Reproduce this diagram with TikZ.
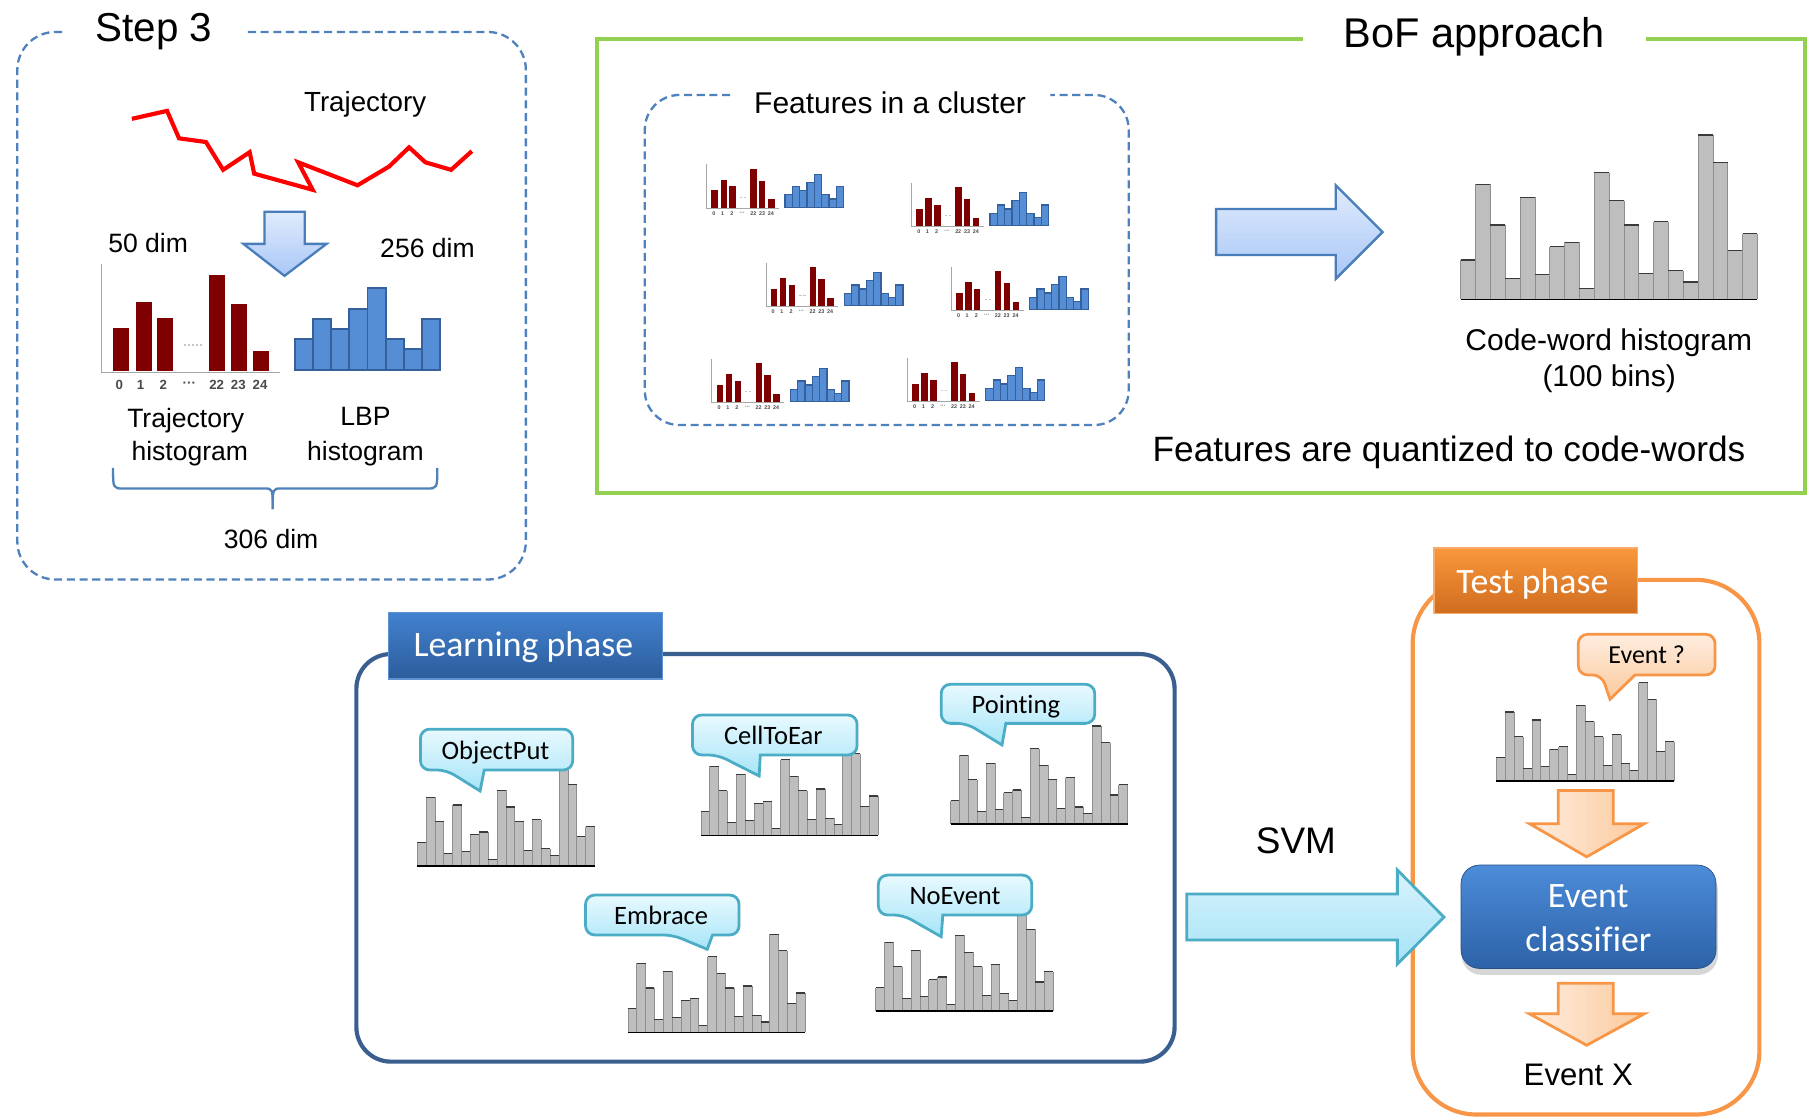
\documentclass[tikz,border=0pt]{standalone}
\usepackage{fontspec}
\setmainfont{Liberation Sans}
\newfontfamily\carlito[Ligatures=NoCommon]{Carlito}

\definecolor{dashblue}{HTML}{4F81BD}
\definecolor{bofgreen}{HTML}{92D050}
\definecolor{trajred}{HTML}{7F0000}
\definecolor{lbpfill}{HTML}{558ED5}
\definecolor{lbpedge}{HTML}{35609B}
\definecolor{cwgray}{HTML}{BEBEBE}
\definecolor{cwside}{HTML}{8E8E8E}
\definecolor{cwtopc}{HTML}{3A3A3A}
\definecolor{bubtop}{HTML}{E8F9FE}
\definecolor{bubbot}{HTML}{A6E5F8}
\definecolor{bubedge}{HTML}{4BACC6}
\definecolor{arrtop}{HTML}{E0EBFC}
\definecolor{arrbot}{HTML}{A9C7F7}
\definecolor{arredge}{HTML}{4A7EBB}
\definecolor{svmtop}{HTML}{D8F3FC}
\definecolor{svmbot}{HTML}{A6E3F7}
\definecolor{learnframe}{HTML}{3A5F8F}
\definecolor{learntop}{HTML}{4282CF}
\definecolor{learnbot}{HTML}{2C5C9B}
\definecolor{learnedge}{HTML}{5E93D3}
\definecolor{testorange}{HTML}{F79646}
\definecolor{testtop}{HTML}{F9973C}
\definecolor{testbot}{HTML}{D06C1E}
\definecolor{peachlight}{HTML}{FEEDDF}
\definecolor{peachdark}{HTML}{FBC99C}
\definecolor{clftop}{HTML}{4C8CD9}
\definecolor{clfbot}{HTML}{2D62A7}
\definecolor{ticktext}{HTML}{4A4A4A}

\newcommand{\fsz}[1]{\fontsize{#1}{#1}\selectfont}

% heights of the 20 code-word bins, in bar widths
\def\cwlist{2.65,7.77,5.01,1.41,6.87,1.68,3.55,3.84,0.74,8.54,6.65,5.01,1.75,5.23,1.93,1.17,11.08,9.21,3.28,4.43}

% code-word histogram: left x, bottom y, bar width
\newcommand{\cwhist}[3]{%
  \begin{scope}[shift={(#1,#2)},scale=#3]
    \foreach \hh [count=\ii from 0] in \cwlist {%
      \fill[cwgray] (\ii,0) rectangle (\ii+1,-\hh);
      \draw[cwsideline] (\ii,0) -- (\ii,-\hh) (\ii+1,-\hh) -- (\ii+1,0);
      \draw[cwtopline] (\ii,-\hh) -- (\ii+1,-\hh);
    }
    \draw[cwbaseline] (0,0) -- (20,0);
  \end{scope}}

% trajectory + LBP feature pair: axis corner x, y, scale, outline width, name prefix
\newcommand{\featpair}[5]{%
  \begin{scope}[shift={(#1,#2)},scale=#3,every node/.append style={transform shape}]
    \foreach \pa/\pb/\ph in {10.1/24/38.4,29.5/43.4/61,48.3/62.1/47.1,93.3/107.2/84.6,111.9/125.7/59.5,130.9/145.1/19}
      \fill[trajred] (\pa,-1.5) rectangle (\pb,-\ph);
    \draw[gray!70, line width=0.9pt] (0,-94.2) -- (0,0) -- (154.6,0);
    \draw[gray!45, line width=1pt, dash pattern=on 2pt off 1.5pt] (71,-24) -- (88,-24);
    \foreach \px/\pl [count=\kk] in {15.3/0,33.8/1,53.5/2,76/···,99.7/22,118.5/23,137.3/24}
      \node[ticklab] (#5tick\kk) at (\px,10.5) {\pl};
    \foreach \ph [count=\ii from 0] in {28.9,46.5,37.8,55.5,73.1,28.9,20.2,46.5}
      \draw[fill=lbpfill, draw=lbpedge, line width=#4] ({167.6+15.71*\ii},-2.3) rectangle ({167.6+15.71*(\ii+1)},-\ph);
  \end{scope}}

% speech bubble outline: [style] left, top, right, bottom, pointer base left, pointer base right, tip
\newcommand{\calloutshape}[8][cyanbub]{%
  \path[#1] ({(#2+#4)/2},#3) [rounded corners=8pt] -- (#2,#3) -- (#2,#5) -- (#6,#5)
    [sharp corners] -- (#8) -- (#7,#5) [rounded corners=8pt] -- (#4,#5) -- (#4,#3) -- cycle;}

\begin{document}
\begin{tikzpicture}[x=1pt,y=-1pt,
  lbl/.style={inner sep=0pt, anchor=base},
  ticklab/.style={inner sep=0pt, text=ticktext, font=\fsz{11.5}\bfseries},
  cwsideline/.style={cwside, line width=0.6pt},
  cwtopline/.style={cwtopc, line width=1pt},
  cwbaseline/.style={black, line width=1.3pt},
  dashframe/.style={dashblue, line width=2pt, dash pattern=on 7pt off 4pt},
  cyanbub/.style={draw=bubedge, line width=2.4pt, top color=bubtop, bottom color=bubbot},
  peachbub/.style={draw=testorange, line width=2.4pt, top color=peachlight, bottom color=peachdark},
  bluearrow/.style={draw=arredge, line width=2pt, top color=arrtop, bottom color=arrbot, line join=miter},
  svmarrow/.style={draw=bubedge, line width=2.4pt, top color=svmtop, bottom color=svmbot, line join=miter},
  orangearrow/.style={draw=testorange, line width=2.4pt, left color=peachlight, right color=peachdark, line join=miter},
]
\useasboundingbox (0,0) rectangle (1568,970);
\fill[white] (0,0) rectangle (1568,970);

% ---------------- Step 3 ----------------
\draw[dashframe, rounded corners=33pt] (53.8,27.7) -- (15,27.7) -- (15,502.3) -- (455.8,502.3) -- (455.8,27.7) -- (213,27.7);
\node[lbl, font=\fsz{35}] (step) at (133.5,35.9) {Step 3};
\node[lbl, font=\fsz{24}] (trajlab) at (316.5,96.9) {Trajectory};
\draw[red, line width=3.6pt, line join=miter, miter limit=4]
  (114.3,103) -- (144.8,96.1) -- (155.2,119.9) -- (178.5,123.1) -- (193.4,147.2) -- (216.4,131.9)
  -- (220.3,150.5) -- (271,164.5) -- (258.5,140.7) -- (309.9,160.6) -- (337.3,144.3)
  -- (354.6,127.7) -- (368.7,140.7) -- (391,147.2) -- (409,131);
\path[bluearrow] (229.3,183.6) -- (264.2,183.6) -- (264.2,211.4) -- (283,211.4) -- (246.6,239.1) -- (211,211.4) -- (229.3,211.4) -- cycle;
\node[lbl, font=\fsz{23}] (dimA) at (128.4,218.6) {50 dim};
\node[lbl, font=\fsz{23}] (dimB) at (370.5,222.8) {256 dim};
\featpair{88.1}{323}{1}{1.7pt}{big}
\node[lbl, font=\fsz{23}] (th1) at (161,370.2) {Trajectory};
\node[lbl, font=\fsz{23}] (th2) at (164.5,399.2) {histogram};
\node[lbl, font=\fsz{23}] (lb1) at (316.7,368.8) {LBP};
\node[lbl, font=\fsz{23}] (lb2) at (316.7,399.2) {histogram};
\draw[dashblue, line width=2pt] (98,405.5) .. controls (98,423.4) .. (107,423.4) -- (229,423.4) .. controls (236.4,423.4) .. (236.4,441.3);
\draw[dashblue, line width=2pt] (379,405.5) .. controls (379,423.4) .. (370,423.4) -- (243.8,423.4) .. controls (236.4,423.4) .. (236.4,441.3);
\node[lbl, font=\fsz{23}] (dimC) at (235,475.6) {306 dim};

% ---------------- BoF approach ----------------
\draw[bofgreen, line width=3.6pt, line join=miter] (1129.1,34.1) -- (517.7,34.1) -- (517.7,427.6) -- (1564.6,427.6) -- (1564.6,34.1) -- (1426.7,34.1);
\node[lbl, font=\fsz{36}] (bof) at (1278,41) {BoF approach};
\draw[dashframe, rounded corners=30pt] (632.9,82.3) -- (558.9,82.3) -- (558.9,368.4) -- (978.3,368.4) -- (978.3,82.3) -- (910.5,82.3);
\node[lbl, font=\fsz{26}] (clus) at (771.5,98.2) {Features in a cluster};
\featpair{612.6}{180.6}{0.405}{1.1pt}{pa}
\featpair{790.2}{196.5}{0.405}{1.1pt}{pb}
\featpair{664}{265.8}{0.405}{1.1pt}{pc}
\featpair{824.6}{269.3}{0.405}{1.1pt}{pd}
\featpair{617.1}{349}{0.405}{1.1pt}{pe}
\featpair{786.6}{348.2}{0.405}{1.1pt}{pf}
\path[bluearrow] (1054.1,181.2) -- (1157.7,181.2) -- (1157.7,160.4) -- (1198.4,201.1) -- (1157.7,241.8) -- (1157.7,221) -- (1054.1,221) -- cycle;
\cwhist{1266.2}{259.4}{12.85}
\node[lbl, font=\fsz{26}] (cw1) at (1394.5,303.4) {Code-word histogram};
\node[lbl, font=\fsz{26}] (cw2) at (1394.8,335.2) {(100 bins)};
\node[lbl, font=\fsz{30.5}] (quant) at (1256,400.2) {Features are quantized to code-words};

% ---------------- Learning phase ----------------
\draw[learnframe, line width=3.6pt, rounded corners=30pt] (308.9,566.9) rectangle (1018.1,920.2);
\node[draw=learnedge, line width=1pt, top color=learntop, bottom color=learnbot, minimum width=236.9pt, minimum height=57.8pt, inner sep=0pt, anchor=north west] (learnbox) at (336.6,530.2) {};
\node[lbl, font=\carlito\fsz{31}, text=white] (learntxt) at (453.6,568.6) {Learning phase};

\cwhist{361.6}{750.6}{7.685}
\cwhist{607.5}{724}{7.685}
\cwhist{824.1}{714.2}{7.66}
\cwhist{544.2}{894.8}{7.685}
\cwhist{759}{876.3}{7.68}

\calloutshape{364.4}{632}{496.4}{667.4}{386.9}{419.7}{416.1,685.6}
\node[lbl, font=\carlito\fsz{23}] (objput) at (429.5,658.2) {ObjectPut};
\calloutshape{600.2}{619.7}{742.9}{654.4}{622.2}{659}{658,672.6}
\node[lbl, font=\carlito\fsz{23}] (cell) at (670.3,644.9) {CellToEar};
\calloutshape{815.8}{593.1}{948.9}{627}{837.9}{871.8}{868.5,645.7}
\node[lbl, font=\carlito\fsz{23}] (point) at (880.5,618.3) {Pointing};
\calloutshape{507.5}{775.8}{640.6}{810.4}{583.2}{617.6}{613,822.8}
\node[lbl, font=\carlito\fsz{23}] (embr) at (573.1,800.9) {Embrace};
\calloutshape{761.3}{758.5}{894.3}{793.1}{782.8}{817.2}{815.8,811.9}
\node[lbl, font=\carlito\fsz{23}] (noev) at (827.8,783.6) {NoEvent};

% ---------------- Test phase ----------------
\draw[testorange, line width=3.6pt, rounded corners=55pt] (1224.5,502.6) rectangle (1525,966);
\node[draw=testorange!80!white, line width=1pt, top color=testtop, bottom color=testbot, minimum width=176.2pt, minimum height=56.9pt, inner sep=0pt, anchor=north west] (testbox) at (1242.4,474.5) {};
\node[lbl, font=\carlito\fsz{31}, text=white] (testtxt) at (1328.2,514.5) {Test phase};
\cwhist{1297}{677}{7.71}
\calloutshape[peachbub]{1368}{549.8}{1486.6}{585}{1388.3}{1417.2}{1395.5,606.1}
\node[lbl, font=\carlito\fsz{22.5}] (evq) at (1427.3,575.5) {Event ?};
\path[orangearrow] (1350.7,685.1) -- (1398.4,685.1) -- (1398.4,713.9) -- (1425.3,713.9) -- (1375.3,742.7) -- (1325.6,713.9) -- (1350.7,713.9) -- cycle;
\fill[black, opacity=0.16, rounded corners=17pt] (1267,755) rectangle (1489,845);
\node[rounded corners=16pt, top color=clftop, bottom color=clfbot, draw=clfbot!80!black, line width=0.6pt, minimum width=221pt, minimum height=89.6pt, inner sep=0pt] (clf) at (1376.9,794.6) {};
\node[lbl, font=\carlito\fsz{31}, text=white] (clf1) at (1376.7,786.6) {Event};
\node[lbl, font=\carlito\fsz{31}, text=white] (clf2) at (1376.7,824.3) {classifier};
\path[orangearrow] (1350.7,852.2) -- (1398.4,852.2) -- (1398.4,878.7) -- (1425.3,878.7) -- (1375.3,906) -- (1325.6,878.7) -- (1350.7,878.7) -- cycle;
\node[lbl, font=\fsz{27}] (evx) at (1368,941.2) {Event X};

% ---------------- SVM ----------------
\node[lbl, font=\fsz{32}] (svm) at (1123.3,740.2) {SVM};
\path[svmarrow] (1028.6,774.9) -- (1211.2,774.9) -- (1211.2,754.1) -- (1251.6,794.9) -- (1211.2,835.6) -- (1211.2,814.8) -- (1028.6,814.8) -- cycle;
\end{tikzpicture}
\end{document}
